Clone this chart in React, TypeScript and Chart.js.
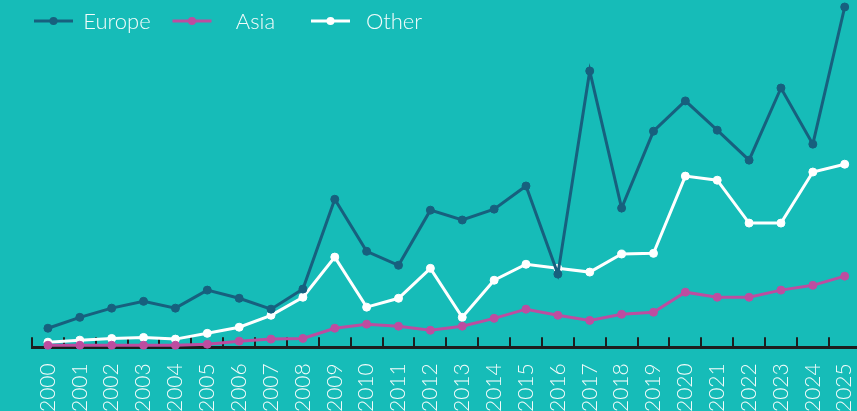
import React, { useEffect, useRef } from 'react';
import { Chart, registerables } from 'chart.js';

Chart.register(...registerables);

const years = [
  '2000', '2001', '2002', '2003', '2004', '2005', '2006', '2007', '2008', '2009',
  '2010', '2011', '2012', '2013', '2014', '2015', '2016', '2017', '2018', '2019',
  '2020', '2021', '2022', '2023', '2024', '2025',
];

const europe = [
  5.6, 8.8, 11.5, 13.5, 11.5, 16.8, 14.4, 11.2, 17.1, 43.5,
  28.2, 24.1, 40.3, 37.4, 40.6, 47.4, 21.5, 81.2, 40.9, 63.5,
  72.4, 63.8, 55.0, 76.2, 59.7, 100,
];

const asia = [
  0.6, 0.6, 0.6, 0.6, 0.6, 0.9, 1.8, 2.4, 2.6, 5.6,
  6.8, 6.2, 5.0, 6.2, 8.5, 11.2, 9.4, 7.9, 9.7, 10.3,
  16.2, 14.7, 14.7, 16.8, 18.2, 20.9,
];

const other = [
  1.5, 2.1, 2.6, 2.9, 2.4, 4.1, 5.9, 9.4, 14.7, 26.5,
  11.8, 14.4, 23.2, 8.8, 19.7, 24.4, 23.2, 22.1, 27.4, 27.6,
  50.3, 49.1, 36.5, 36.5, 51.5, 53.8,
];

const seriesLabels = ['Europe', 'Asia', 'Other'];
const seriesData = [europe, asia, other];
const seriesColors = ['#17607E', '#BD4DA0', '#FFFFFF'];

const BG = '#16BCB8';
const FONT = 'Lato, "Open Sans", "Noto Sans", sans-serif';

const lineLegend = {
  id: 'lineLegend',
  afterDatasetsDraw(chart: any) {
    const ctx = chart.ctx as CanvasRenderingContext2D;
    ctx.save();
    chart.data.datasets.forEach((ds: any, i: number) => {
      const x0 = 34 + 138.5 * i;
      const y = 21;
      ctx.strokeStyle = ds.borderColor;
      ctx.lineWidth = 3;
      ctx.beginPath();
      ctx.moveTo(x0, y);
      ctx.lineTo(x0 + 39, y);
      ctx.stroke();
      ctx.fillStyle = ds.borderColor;
      ctx.beginPath();
      ctx.arc(x0 + 19.5, y, 4, 0, Math.PI * 2);
      ctx.fill();
      ctx.fillStyle = '#F4FCFB';
      ctx.font = '300 22px ' + FONT;
      ctx.textAlign = 'center';
      ctx.textBaseline = 'middle';
      ctx.fillText(ds.label, x0 + 83, y + 1);
    });
    ctx.restore();
  },
};

export default function App() {
  const canvasRef = useRef<HTMLCanvasElement | null>(null);

  useEffect(() => {
    document.body.style.margin = '0';
    document.body.style.background = BG;
    const canvas = canvasRef.current;
    if (!canvas) return;
    const chart = new Chart(canvas, {
      type: 'line',
      data: {
        labels: years,
        datasets: seriesLabels.map((label, i) => ({
          label,
          data: seriesData[i],
          borderColor: seriesColors[i],
          backgroundColor: seriesColors[i],
          pointBackgroundColor: seriesColors[i],
          pointBorderColor: seriesColors[i],
          borderWidth: 3,
          pointRadius: 4,
          pointBorderWidth: 1,
          tension: 0,
          fill: false,
          clip: false as any,
        })),
      },
      options: {
        responsive: false,
        animation: false,
        devicePixelRatio: 1,
        layout: { padding: { left: 32, top: 7, right: 0, bottom: 0 } },
        plugins: {
          legend: { display: false },
          tooltip: { enabled: false },
        },
        scales: {
          x: {
            type: 'category',
            offset: true,
            grid: {
              offset: true,
              drawOnChartArea: false,
              drawTicks: true,
              tickLength: -10,
              color: '#1E1E1E',
              lineWidth: 2,
            },
            border: { display: true, color: '#1E1E1E', width: 3 },
            ticks: {
              color: '#F4FCFB',
              font: { family: FONT, size: 21, weight: '300' as any },
              minRotation: 90,
              maxRotation: 90,
              autoSkip: false,
              padding: 26,
            },
          },
          y: {
            display: false,
            min: 0,
            max: 100,
          },
        },
      },
      plugins: [lineLegend],
    });
    return () => chart.destroy();
  }, []);

  return (
    <div style={{ width: 857, height: 411, overflow: 'hidden', background: BG, position: 'relative' }}>
      <canvas ref={canvasRef} width={896} height={438} style={{ display: 'block' }} />
    </div>
  );
}
